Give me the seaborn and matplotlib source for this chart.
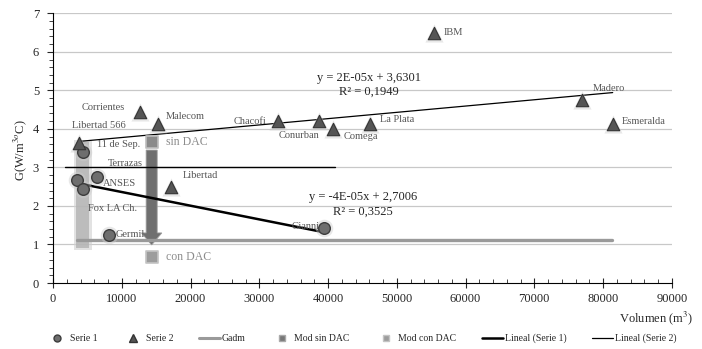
import numpy as np
import pandas as pd
import matplotlib
matplotlib.use("Agg")
import matplotlib.pyplot as plt
import seaborn as sns
from matplotlib.lines import Line2D
from matplotlib.ticker import MultipleLocator

# Serie 1 (circulos)
s1_names = ["11 de Sep.", "Terrazas", "ANSES", "Fox LA Ch.", "Germil", "Gianni"]
s1_vol = [4400, 6400, 3500, 4400, 8100, 39400]
s1_g = [3.40, 2.75, 2.68, 2.44, 1.25, 1.43]

# Serie 2 (triangulos)
s2_names = ["Libertad 566", "Corrientes", "Malecom", "Libertad", "Chacofi", "Conurban",
            "Comega", "La Plata", "IBM", "Madero", "Esmeralda"]
s2_vol = [3800, 12600, 15300, 17100, 32700, 38700, 40700, 46100, 55400, 77000, 81400]
s2_g = [3.64, 4.44, 4.13, 2.49, 4.21, 4.20, 4.00, 4.13, 6.49, 4.75, 4.13]

# Gadm y referencia
gadm_vol = [3500, 81300]
gadm_g = [1.12, 1.12]
ref_vol = [1800, 41000]
ref_g = [3.0, 3.0]

# Modelo sin / con DAC
mod_vol = [14400, 14400]
mod_g = [3.66, 0.68]
mod_names = ["sin DAC", "con DAC"]

eq1 = ["y = -4E-05x + 2,7006", "R² = 0,3525"]
eq2 = ["y = 2E-05x + 3,6301", "R² = 0,1949"]

# label offsets in pixels (dx, dy, ha)
s1_off = [(14, 8, "left"), (11, 14, "left"), (26, -4, "left"), (5, -19, "left"),
          (7, 0, "left"), (-4, 1, "right")]
s2_off = [(20, 17, "center"), (-15, 4, "right"), (8, 7, "left"), (12, 12, "left"),
          (-11, -1, "right"), (-20, -14, "center"), (11, -8, "left"), (10, 4, "left"),
          (10, 0, "left"), (10, 11, "left"), (9, 2, "left")]

sns.set_style("ticks")
plt.rcParams["font.family"] = ["Liberation Serif", "DejaVu Serif"]
plt.rcParams["mathtext.fontset"] = "stix"

df1 = pd.DataFrame({"vol": s1_vol, "g": s1_g})
df2 = pd.DataFrame({"vol": s2_vol, "g": s2_g})

fig = plt.figure(figsize=(7.02, 3.49), dpi=100)
ax = fig.add_axes([0.0755, 0.189, 0.8815, 0.773])

for yv in range(1, 8):
    ax.axhline(yv, color="#c8c8c8", lw=0.9, zorder=0)

# flechas
ax.fill_betweenx([0.86, 3.7], 3000, 5600, color="#cfcfcf", alpha=0.6, lw=0, zorder=1)
ax.fill_betweenx([0.9, 3.65], 3300, 5300, color="#b0b0b0", alpha=0.75, lw=0, zorder=1)
ax.arrow(14350, 3.45, 0, -2.46, width=1600, head_width=2950, head_length=0.31,
         length_includes_head=True, color="#6f6f6f", ec="#9a9a9a", lw=0.6, zorder=2)

sns.lineplot(x=gadm_vol, y=gadm_g, color="#9a9a9a", lw=2.4, ax=ax, zorder=3)
sns.lineplot(x=ref_vol, y=ref_g, color="black", lw=1.0, ax=ax, zorder=3)

sns.regplot(data=df1, x="vol", y="g", scatter=False, ci=None, ax=ax,
            line_kws={"color": "black", "lw": 1.8, "zorder": 4})
sns.regplot(data=df2, x="vol", y="g", scatter=False, ci=None, ax=ax,
            line_kws={"color": "black", "lw": 0.9, "zorder": 4})

# halo suave detras de los marcadores
sns.scatterplot(data=df1, x="vol", y="g", marker="o", s=160, color="#cccccc",
                alpha=0.45, linewidth=0, ax=ax, zorder=4.5)
sns.scatterplot(data=df2, x="vol", y="g", marker="^", s=170, color="#cccccc",
                alpha=0.45, linewidth=0, ax=ax, zorder=4.5)

sns.scatterplot(data=df1, x="vol", y="g", marker="o", s=70, color="#6e6e6e",
                edgecolor="#3c3c3c", linewidth=1.0, ax=ax, zorder=5)
sns.scatterplot(data=df2, x="vol", y="g", marker="^", s=80, color="#555555",
                edgecolor="#333333", linewidth=0.8, ax=ax, zorder=5)
sns.scatterplot(x=mod_vol[:1], y=mod_g[:1], marker="s", s=75, color="#8a8a8a",
                edgecolor="#bdbdbd", linewidth=1.2, ax=ax, zorder=5)
sns.scatterplot(x=mod_vol[1:], y=mod_g[1:], marker="s", s=75, color="#9c9c9c",
                edgecolor="#c4c4c4", linewidth=1.2, ax=ax, zorder=5)

for name, xv, yv, (dx, dy, ha) in zip(s1_names, s1_vol, s1_g, s1_off):
    ax.annotate(name, (xv, yv), xytext=(dx, dy), textcoords="offset pixels",
                ha=ha, va="center", fontsize=7.5, color="#555555", zorder=6)
for name, xv, yv, (dx, dy, ha) in zip(s2_names, s2_vol, s2_g, s2_off):
    ax.annotate(name, (xv, yv), xytext=(dx, dy), textcoords="offset pixels",
                ha=ha, va="center", fontsize=7.5, color="#555555", zorder=6)
for name, xv, yv in zip(mod_names, mod_vol, mod_g):
    ax.annotate(name, (xv, yv), xytext=(14, 0), textcoords="offset pixels",
                ha="left", va="center", fontsize=8.5, color="#8c8c8c", zorder=6)

ax.text(45950, 5.32, eq2[0], ha="center", va="center", fontsize=9)
ax.text(45950, 4.96, eq2[1], ha="center", va="center", fontsize=9)
ax.text(45060, 2.23, eq1[0], ha="center", va="center", fontsize=9)
ax.text(45060, 1.84, eq1[1], ha="center", va="center", fontsize=9)

ax.set_xlim(0, 90000)
ax.set_ylim(0, 7)
ax.xaxis.set_major_locator(MultipleLocator(10000))
ax.xaxis.set_minor_locator(MultipleLocator(2000))
ax.yaxis.set_major_locator(MultipleLocator(1))
ax.yaxis.set_minor_locator(MultipleLocator(0.2))
ax.tick_params(axis="x", which="major", direction="inout", length=7, width=0.8, labelsize=9, pad=4)
ax.tick_params(axis="x", which="minor", direction="in", length=3, width=0.6)
ax.tick_params(axis="y", which="major", direction="out", length=4, width=0.8, labelsize=9, pad=6)
ax.tick_params(axis="y", which="minor", direction="out", length=3, width=0.6)
ax.set_xlabel("")
ax.set_ylabel("")
sns.despine(ax=ax)
ax.spines["left"].set_color("black")
ax.spines["bottom"].set_color("black")

fig.text(0.029, 0.57, "G(W/m$^{3o}$C)", rotation=90, ha="center", va="center", fontsize=9)
fig.text(0.987, 0.089, "Volumen (m$^{3}$)", ha="right", va="center", fontsize=9)

handles = [
    Line2D([], [], ls="", marker="o", ms=5, color="#6e6e6e", mec="#3c3c3c"),
    Line2D([], [], ls="", marker="^", ms=5.5, color="#555555", mec="#333333"),
    Line2D([], [], color="#9a9a9a", lw=2.2),
    Line2D([], [], ls="", marker="s", ms=5, color="#777777", mec="#aaaaaa"),
    Line2D([], [], ls="", marker="s", ms=5, color="#9c9c9c", mec="#c4c4c4"),
    Line2D([], [], color="black", lw=1.8),
    Line2D([], [], color="black", lw=0.9),
]
labels = ["Serie 1", "Serie 2", "Gadm", "Mod sin DAC", "Mod con DAC",
          "Lineal (Serie 1)", "Lineal (Serie 2)"]
fig.legend(handles, labels, loc="center", bbox_to_anchor=(0.515, 0.03), ncol=7,
           frameon=False, fontsize=7, handlelength=2.2, handletextpad=0.2,
           columnspacing=2.6)

fig.savefig("out.png", dpi=100)
